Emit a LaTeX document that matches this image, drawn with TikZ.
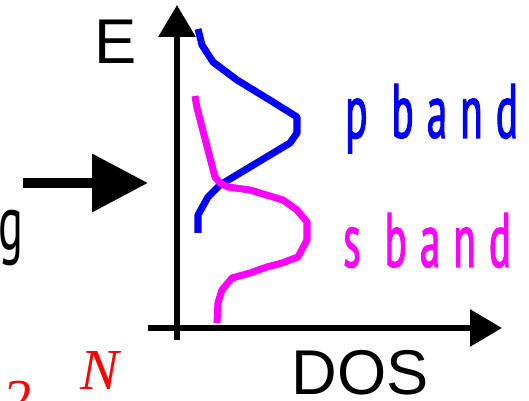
\documentclass[tikz,border=0pt]{standalone}
\usepackage{fontspec}
\setmainfont{Liberation Sans}
\newfontfamily\bandfont[FakeStretch=0.53,LetterSpace=17,FakeBold=1.4]{PT Sans}
\newfontfamily\gfont[FakeStretch=0.6]{PT Sans}
\newfontfamily\serfont{Liberation Serif}
\usetikzlibrary{arrows.meta}
\definecolor{pcol}{HTML}{0000FF}
\definecolor{scol}{HTML}{FF00FF}
\definecolor{redtxt}{HTML}{FF0000}

\begin{document}
\begin{tikzpicture}[x=0.02cm,y=0.02cm,
    axis/.style={line width=3.4pt,-{Triangle[length=0.64cm,width=0.72cm]}},
    band/.style={line width=4pt,line join=round},
    lbl/.style={anchor=base west,inner sep=0pt}]
  \useasboundingbox (0,0) rectangle (529,401);

  % axes
  \coordinate (ybot) at (177,61);
  \coordinate (ytop) at (177,396);
  \coordinate (xleft) at (148,73);
  \coordinate (xright) at (502,73);
  \draw[axis] (ybot) -- (ytop);
  \draw[axis] (xleft) -- (xright);
  \node[lbl,font=\fontsize{36}{40}\selectfont] (elbl) at (94,337) {E};
  \node[lbl,font=\fontsize{36}{40}\selectfont] (doslbl) at (291,6) {DOS};

  % arrow coming in from the left
  \coordinate (arrstart) at (23,218);
  \coordinate (arrend) at (148,218);
  \draw[line width=5.7pt,-{Triangle[length=1.12cm,width=1.12cm]}]
    (arrstart) -- (arrend);

  % densities of states
  \draw[band,pcol] (198,372) -- (202,356) -- (213,339) -- (237,321)
    -- (273,299) -- (297,284) -- (297,268) -- (290,258) -- (220,216)
    -- (208,204) -- (198,186) -- (198,168);
  \draw[band,scol] (195,305) -- (197,293) -- (215,224) -- (220,218)
    -- (228,214) -- (250,211) -- (283,201) -- (297,191) -- (307,179)
    -- (307,161) -- (298,144) -- (282,138) -- (267,134) -- (250,128)
    -- (232,123) -- (222,111) -- (218,98) -- (217,78);

  \node[lbl,pcol,font=\bandfont\fontsize{44}{48}\selectfont] (plbl)
    at (345,263) {p band};
  \node[lbl,scol,font=\bandfont\fontsize{44}{48}\selectfont] (slbl)
    at (343,134) {s band};
  \node[lbl,font=\gfont\fontsize{44}{48}\selectfont] (glbl)
    at (-2,151) {g};

  % leftovers of the slide below
  \node[lbl,redtxt,font=\serfont\itshape\fontsize{33}{36}\selectfont] (nlbl)
    at (80,11) {N};
  \node[lbl,redtxt,font=\serfont\itshape\fontsize{33}{36}\selectfont] (twolbl)
    at (2,-19) {2};
\end{tikzpicture}
\end{document}
